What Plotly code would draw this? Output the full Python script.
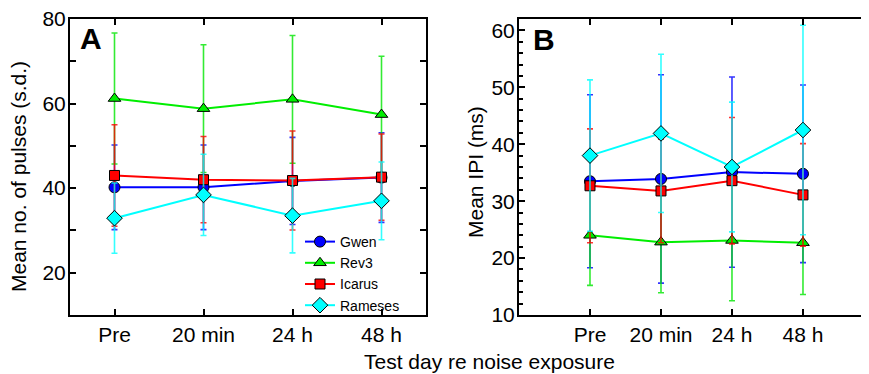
import plotly.graph_objects as go

categories = ["Pre", "20 min", "24 h", "48 h"]
series_names = ["Gwen", "Rev3", "Icarus", "Rameses"]

# Panel A: mean number of pulses (s.d.)
gwen_a = [40.2, 40.2, 41.7, 42.5]
gwen_a_sd = [10.0, 10.0, 10.3, 10.6]
rev3_a = [61.2, 58.8, 61.0, 57.4]
rev3_a_sd = [15.5, 15.1, 15.1, 13.8]
icarus_a = [43.0, 42.0, 41.8, 42.6]
icarus_a_sd = [12.0, 10.2, 11.7, 10.2]
rameses_a = [32.9, 38.4, 33.5, 37.0]
rameses_a_sd = [8.3, 9.6, 8.8, 9.2]

# Panel B: mean IPI (ms)
gwen_b = [33.5, 33.9, 35.1, 34.8]
gwen_b_sd = [15.2, 18.3, 16.7, 15.6]
rev3_b = [24.0, 22.8, 23.1, 22.7]
rev3_b_sd = [8.8, 8.9, 10.6, 9.1]
icarus_b = [32.7, 31.8, 33.6, 31.1]
icarus_b_sd = [10.0, 9.1, 11.1, 9.0]
rameses_b = [38.0, 41.9, 36.0, 42.5]
rameses_b_sd = [13.3, 13.9, 11.4, 18.4]

ya_ticks = [20, 30, 40, 50, 60, 70, 80]
ya_ticktext = ["20", "", "40", "", "60", "", "80"]

colors = ["#0000ff", "#00ee00", "#ff0000", "#00ffff"]
err_colors = ["rgba(0,0,255,0.8)", "rgba(0,230,0,0.8)", "rgba(255,0,0,0.8)", "rgba(0,255,255,0.8)"]
symbols = ["circle", "triangle-up", "square", "diamond"]
msizes = [11, 11, 10, 12]

FONT = "Liberation Sans, Arial, sans-serif"

fig = go.Figure()

panel_a = [(gwen_a, gwen_a_sd), (rev3_a, rev3_a_sd), (icarus_a, icarus_a_sd), (rameses_a, rameses_a_sd)]
panel_b = [(gwen_b, gwen_b_sd), (rev3_b, rev3_b_sd), (icarus_b, icarus_b_sd), (rameses_b, rameses_b_sd)]

xidx = list(range(len(categories)))

for i, (vals, sd) in enumerate(panel_a):
    fig.add_trace(go.Scatter(
        x=xidx, y=vals, name=series_names[i], mode="lines+markers",
        line=dict(color=colors[i], width=2),
        marker=dict(symbol=symbols[i], size=msizes[i], color=colors[i],
                    line=dict(color="black", width=1)),
        error_y=dict(type="data", array=sd, visible=True, color=err_colors[i],
                     thickness=1.6, width=3),
        xaxis="x", yaxis="y", showlegend=True))

for i, (vals, sd) in enumerate(panel_b):
    fig.add_trace(go.Scatter(
        x=xidx, y=vals, name=series_names[i], mode="lines+markers",
        line=dict(color=colors[i], width=2),
        marker=dict(symbol=symbols[i], size=msizes[i], color=colors[i],
                    line=dict(color="black", width=1)),
        error_y=dict(type="data", array=sd, visible=True, color=err_colors[i],
                     thickness=1.6, width=3),
        xaxis="x2", yaxis="y2", showlegend=False))

# page body has an 8px margin; lay out in figure coordinates accordingly
W, H = 861, 366
OFF = 8


def px(x):
    return (x - OFF) / W


def py(y):
    return 1 - (y - OFF) / H


ydom = [py(315), py(19)]

common_x = dict(tickmode="array", tickvals=xidx, ticktext=categories,
                ticks="inside", ticklen=6, tickwidth=2, tickcolor="black",
                showline=True, linecolor="black", linewidth=2, mirror="ticks",
                showgrid=False, zeroline=False, automargin=False,
                tickfont=dict(family=FONT, size=21, color="black"))

fig.update_layout(
    width=W, height=H,
    margin=dict(l=0, r=0, t=0, b=0, autoexpand=False),
    paper_bgcolor="white", plot_bgcolor="white",
    font=dict(family=FONT, color="black"),
    xaxis=dict(domain=[px(70), px(426)], range=[-0.5, 3.5], **common_x),
    yaxis=dict(domain=ydom, range=[10, 80], tickmode="array", tickvals=ya_ticks,
               ticktext=ya_ticktext, ticks="inside", ticklen=6, tickwidth=2,
               tickcolor="black", showline=True, linecolor="black", linewidth=2,
               mirror="ticks", showgrid=False, zeroline=False, automargin=False,
               ticklabelstandoff=-2, ticklabeloverflow="allow",
               tickfont=dict(family=FONT, size=21, color="black")),
    xaxis2=dict(domain=[px(519), 1.0], range=[-1.0, 3.93], anchor="y2", **common_x),
    yaxis2=dict(domain=ydom, range=[10, 62], anchor="x2", tick0=10, dtick=10,
                ticks="inside", ticklen=6, tickwidth=2, tickcolor="black",
                minor=dict(dtick=2, ticks="inside", ticklen=4, tickwidth=1.5, tickcolor="black"),
                showline=True, linecolor="black", linewidth=2, mirror="ticks",
                showgrid=False, zeroline=False, automargin=False,
                ticklabelstandoff=-2, ticklabeloverflow="allow",
                tickfont=dict(family=FONT, size=21, color="black")),
    legend=dict(x=px(300), y=py(226), xanchor="left", yanchor="top",
                bgcolor="rgba(0,0,0,0)", borderwidth=0,
                font=dict(family=FONT, size=14, color="black"),
                itemwidth=30, tracegroupgap=0),
    showlegend=True,
)

ann = [
    dict(text="<b>A</b>", x=px(78), y=py(39), xanchor="left", yanchor="middle",
         font=dict(size=30, family=FONT, color="black")),
    dict(text="<b>B</b>", x=px(531), y=py(40), xanchor="left", yanchor="middle",
         font=dict(size=30, family=FONT, color="black")),
    dict(text="Mean no. of pulses (s.d.)", x=px(19), y=py(177), textangle=-90,
         xanchor="center", yanchor="middle", font=dict(size=21, family=FONT, color="black")),
    dict(text="Mean IPI (ms)", x=px(475), y=py(172), textangle=-90,
         xanchor="center", yanchor="middle", font=dict(size=21, family=FONT, color="black")),
    dict(text="Test day re noise exposure", x=px(490), y=py(361),
         xanchor="center", yanchor="middle", font=dict(size=21, family=FONT, color="black")),
]
for a in ann:
    a.update(xref="paper", yref="paper", showarrow=False)
fig.update_layout(annotations=ann)

fig.write_html("out.html")
